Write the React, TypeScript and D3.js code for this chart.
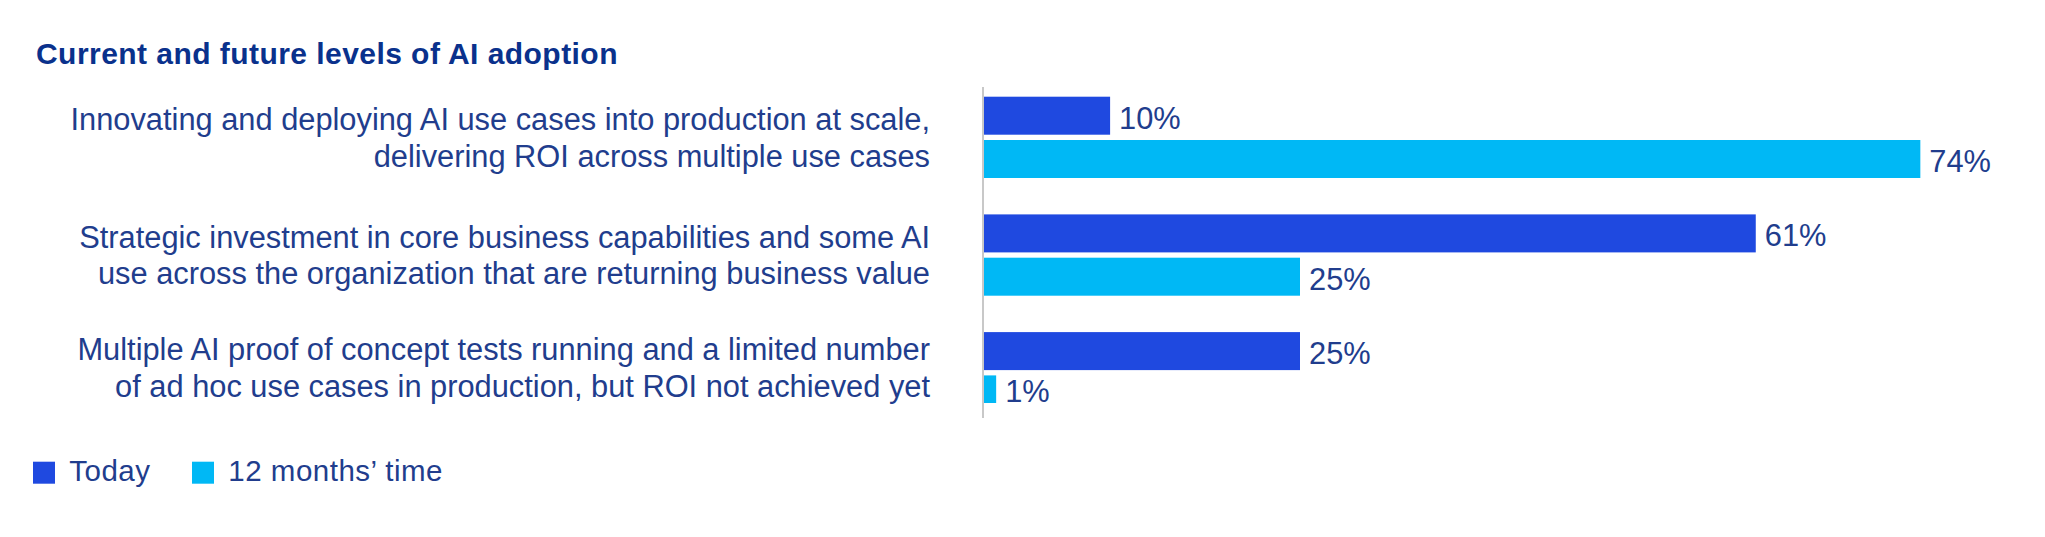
import React from "react";
import * as d3 from "d3";

// ---- data ----
const title = "Current and future levels of AI adoption";
const categoryLines: string[][] = [
  ["Innovating and deploying AI use cases into production at scale,", "delivering ROI across multiple use cases"],
  ["Strategic investment in core business capabilities and some AI", "use across the organization that are returning business value"],
  ["Multiple AI proof of concept tests running and a limited number", "of ad hoc use cases in production, but ROI not achieved yet"],
];
const categories = categoryLines.map((l) => l.join(" "));
const seriesNames = ["Today", "12 months’ time"];
const todayValues = [10, 61, 25];
const in12MonthsValues = [74, 25, 1];
const seriesValues = [todayValues, in12MonthsValues];
const seriesColors = ["#1F49E0", "#00B8F5"];

// ---- layout ----
const W = 2045;
const H = 537;
const axisX = 983;
const plotTop = 87;
const plotBottom = 418;
const groupTop = 96.7;
const groupStep = 117.7;
const barClipBottom = 403;
const labelRight = 930;
const lineGap = 36.5;
const fontSize = 30.8;
const capH = fontSize * 0.716;
const textColor = "#213d8d";
const fontFamily = "'Liberation Sans', Arial, Helvetica, sans-serif";

export default function App() {
  const x = d3.scaleLinear().domain([0, 100]).range([axisX + 0.5, axisX + 0.5 + 1266]);
  const y0 = d3
    .scaleBand<string>()
    .domain(categories)
    .range([groupTop, groupTop + groupStep * categories.length])
    .paddingInner(0)
    .paddingOuter(0);
  const y1 = d3
    .scaleBand<string>()
    .domain(seriesNames)
    .range([0, 81.3])
    .paddingInner(0.1224)
    .paddingOuter(0);

  const bars: { key: string; x: number; y: number; w: number; h: number; color: string; value: number; cy: number }[] = [];
  categories.forEach((c, ci) => {
    seriesNames.forEach((s, si) => {
      const v = seriesValues[si][ci];
      const yy = (y0(c) as number) + (y1(s) as number);
      const hh = y1.bandwidth();
      const visBottom = Math.min(yy + hh, barClipBottom);
      bars.push({
        key: c + s,
        x: x(0),
        y: yy,
        w: x(v) - x(0),
        h: hh,
        color: seriesColors[si],
        value: v,
        cy: (yy + visBottom) / 2,
      });
    });
  });

  const groupCenters = categories.map((c) => {
    const top = y0(c) as number;
    const bottom = Math.min(top + (y1(seriesNames[seriesNames.length - 1]) as number) + y1.bandwidth(), barClipBottom);
    return (top + bottom) / 2;
  });

  const legendX = [33, 192];

  return (
    <svg
      width={W}
      height={H}
      style={{ position: "absolute", left: 0, top: 0, background: "#fff" }}
      fontFamily={fontFamily}
    >
      <defs>
        <clipPath id="plotClip">
          <rect x={axisX} y={plotTop} width={W - axisX} height={barClipBottom - plotTop} />
        </clipPath>
      </defs>
      <text x={36} y={64.3} fontSize={30} fontWeight={700} fill="#0a318c" letterSpacing={0.45}>
        {title}
      </text>

      {categoryLines.map((lines, i) => (
        <text key={i} textAnchor="end" fontSize={fontSize} fill={textColor}>
          {lines.map((ln, j) => (
            <tspan key={j} x={labelRight} y={groupCenters[i] - lineGap / 2 + capH / 2 + j * lineGap}>
              {ln}
            </tspan>
          ))}
        </text>
      ))}

      <g clipPath="url(#plotClip)">
        {bars.map((b) => (
          <rect key={b.key} x={b.x} y={b.y} width={b.w} height={b.h} fill={b.color} />
        ))}
      </g>

      <line x1={axisX} x2={axisX} y1={plotTop} y2={plotBottom} stroke="#c8c8c8" strokeWidth={2} />

      {bars.map((b) => (
        <text key={"l" + b.key} x={b.x + b.w + 9} y={b.cy + 2 + capH / 2} fontSize={fontSize} fill={textColor}>
          {b.value}%
        </text>
      ))}

      {seriesNames.map((s, i) => (
        <g key={s} transform={`translate(${legendX[i]},0)`}>
          <rect x={0} y={461.7} width={22} height={22} fill={seriesColors[i]} />
          <text x={36.3} y={481} fontSize={29.5} fill={textColor} letterSpacing={0.5}>
            {s}
          </text>
        </g>
      ))}
    </svg>
  );
}
